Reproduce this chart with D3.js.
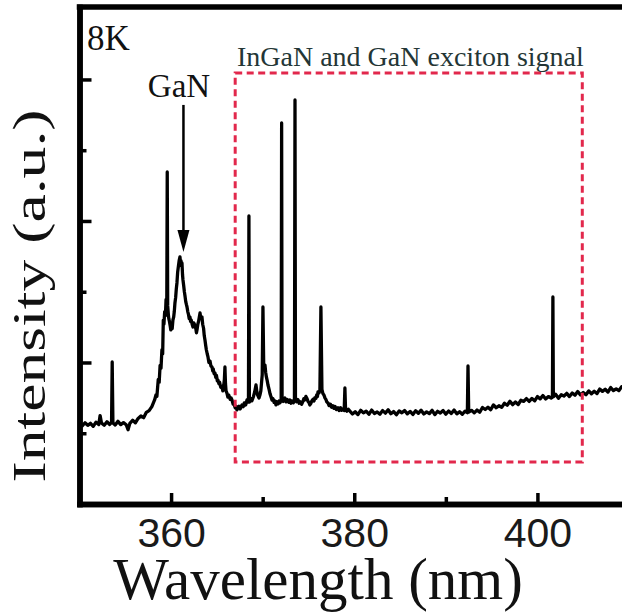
<!DOCTYPE html>
<html>
<head>
<meta charset="utf-8">
<script src="https://cdn.jsdelivr.net/npm/d3@7"></script>
<style>
  body { margin: 0; background: #fff; }
  svg { display: block; }
</style>
</head>
<body>
<svg id="chart" width="622" height="612"></svg>
<script>
// Photoluminescence spectrum at 8 K: [wavelength (nm), intensity (a.u.)]
const spectrum = [
  [350.0,0.568],[350.3,0.552],[350.6,0.574],[350.9,0.556],[351.2,0.570],[351.5,0.549],
  [351.8,0.578],[352.1,0.561],[352.25,0.625],[352.4,0.572],[352.7,0.556],[353.0,0.581],
  [353.3,0.562],[353.5,0.576],[353.57,1.004],[353.65,0.572],[353.9,0.558],[354.2,0.584],
  [354.5,0.561],[354.8,0.575],[355.1,0.560],[355.3,0.525],[355.5,0.570],[355.8,0.592],
  [356.1,0.574],[356.4,0.605],[356.7,0.622],[357.0,0.610],[357.3,0.648],[357.6,0.660],
  [357.9,0.688],
  // GaN band-edge emission
  [358.2,0.735],[358.35,0.770],[358.45,0.760],[358.6,0.880],[358.7,0.860],[358.8,0.980],
  [358.9,0.960],[359.0,1.090],[359.08,1.060],[359.15,1.300],[359.22,1.270],[359.3,1.360],
  [359.38,1.330],[359.45,1.445],[359.53,1.400],[359.58,2.346],[359.63,1.400],[359.7,1.340],
  [359.75,1.310],[359.82,1.290],[359.9,1.260],[359.97,1.230],[360.05,1.260],[360.12,1.240],
  [360.2,1.300],[360.28,1.320],[360.35,1.360],[360.42,1.420],[360.5,1.460],[360.57,1.520],
  [360.64,1.562],[360.72,1.640],[360.8,1.680],[360.88,1.720],[360.97,1.746],[361.03,1.700],
  [361.08,1.720],[361.14,1.680],[361.19,1.703],[361.25,1.620],[361.3,1.583],[361.38,1.540],
  [361.45,1.500],[361.52,1.470],[361.6,1.430],[361.67,1.410],[361.74,1.392],[361.82,1.360],
  [361.9,1.340],[361.98,1.310],[362.06,1.322],[362.13,1.290],[362.2,1.300],[362.3,1.270],
  [362.39,1.251],[362.47,1.280],[362.55,1.270],[362.62,1.250],[362.7,1.240],[362.77,1.210],
  [362.83,1.230],[362.92,1.270],[363.0,1.290],[363.08,1.320],[363.16,1.350],[363.25,1.310],
  [363.37,1.322],[363.45,1.270],[363.55,1.240],[363.62,1.190],[363.7,1.159],[363.78,1.120],
  [363.85,1.090],[363.95,1.060],[364.03,1.039],[364.13,1.000],[364.25,1.010],[364.35,0.975],
  [364.47,0.968],[364.55,0.940],[364.6,0.955],[364.7,0.920],[364.79,0.926],[364.88,0.895],
  [364.95,0.910],[365.05,0.870],[365.12,0.876],[365.22,0.850],[365.3,0.860],[365.42,0.825],
  [365.56,0.827],[365.65,0.800],[365.75,0.840],[365.82,0.880],[365.88,0.968],[365.94,0.850],
  [366.0,0.800],[366.1,0.784],[366.2,0.755],[366.3,0.770],[366.45,0.740],[366.55,0.750],
  [366.65,0.735],[366.78,0.705],[366.9,0.700],[367.0,0.680],[367.1,0.690],[367.19,0.665],
  [367.3,0.685],
  // InGaN / GaN exciton lines
  [367.4,0.690],[367.55,0.672],[367.74,0.700],[367.88,0.688],[368.0,0.715],[368.15,0.700],
  [368.29,0.735],[368.45,0.720],[368.5,2.035],[368.55,0.720],[368.7,0.745],[368.83,0.730],
  [369.0,0.760],[369.12,0.790],[369.27,0.841],[369.37,0.790],[369.45,0.770],[369.6,0.749],
  [369.7,0.770],[369.8,0.800],[369.95,0.912],[370.03,1.392],[370.12,0.950],[370.25,0.982],
  [370.33,0.930],[370.4,0.900],[370.5,0.870],[370.58,0.841],[370.7,0.810],[370.8,0.780],
  [370.9,0.760],[371.02,0.735],[371.12,0.745],[371.25,0.718],[371.35,0.728],[371.45,0.700],
  [371.58,0.722],[371.7,0.708],[371.8,0.728],[371.89,0.715],[372.02,0.730],[372.07,2.693],
  [372.12,0.740],[372.25,0.725],[372.43,0.749],[372.55,0.722],[372.7,0.738],[372.85,0.718],
  [372.98,0.735],[373.1,0.712],[373.2,0.728],[373.35,0.715],[373.47,0.740],[373.53,2.855],
  [373.58,0.740],[373.7,0.722],[373.85,0.738],[373.98,0.712],[374.1,0.722],[374.25,0.705],
  [374.4,0.725],[374.5,0.745],[374.6,0.735],[374.72,0.760],[374.84,0.745],[374.95,0.725],
  [375.05,0.718],[375.15,0.700],[375.27,0.712],[375.38,0.730],[375.5,0.740],[375.6,0.728],
  [375.71,0.752],[375.8,0.745],[375.9,0.770],[375.98,0.760],[376.04,0.792],[376.15,0.785],
  [376.25,0.805],[376.36,1.392],[376.47,0.810],[376.58,0.780],[376.69,0.770],[376.8,0.750],
  [376.9,0.740],[377.0,0.722],[377.13,0.714],[377.25,0.695],[377.4,0.705],[377.52,0.684],
  [377.67,0.695],[377.78,0.676],[377.9,0.690],[378.05,0.668],[378.22,0.680],[378.35,0.660],
  [378.5,0.680],[378.62,0.662],[378.76,0.672],[378.9,0.660],[378.98,0.820],[379.05,0.668],
  [379.2,0.656],[379.35,0.670],
  // flat background and slow rise towards the red end
  [379.5,0.658],[379.8,0.636],[380.1,0.652],[380.4,0.632],[380.7,0.662],[381.0,0.644],
  [381.3,0.656],[381.6,0.634],[381.9,0.664],[382.2,0.640],[382.5,0.650],[382.8,0.635],
  [383.1,0.660],[383.4,0.642],[383.7,0.666],[384.0,0.638],[384.3,0.653],[384.6,0.631],
  [384.9,0.657],[385.2,0.645],[385.5,0.661],[385.8,0.637],[386.1,0.654],[386.4,0.633],
  [386.7,0.659],[387.0,0.641],[387.3,0.663],[387.6,0.636],[387.9,0.651],[388.2,0.639],
  [388.5,0.662],[388.8,0.632],[389.1,0.655],[389.4,0.643],[389.7,0.660],[390.0,0.635],
  [390.3,0.657],[390.6,0.640],[390.9,0.664],[391.2,0.637],[391.5,0.652],[391.8,0.634],
  [392.1,0.656],[392.35,0.645],[392.42,0.975],[392.5,0.650],[392.8,0.662],[393.1,0.644],
  [393.4,0.664],[393.7,0.648],[394.0,0.682],[394.3,0.668],[394.6,0.684],[394.9,0.666],
  [395.2,0.700],[395.5,0.680],[395.8,0.694],[396.1,0.683],[396.4,0.712],[396.7,0.698],
  [397.0,0.726],[397.3,0.702],[397.6,0.721],[397.9,0.703],[398.2,0.733],[398.5,0.725],
  [398.8,0.745],[399.1,0.725],[399.4,0.746],[399.7,0.729],[400.0,0.759],[400.3,0.743],
  [400.6,0.767],[400.9,0.742],[401.2,0.759],[401.5,0.749],[401.64,0.755],[401.69,1.463],
  [401.74,0.758],[402.0,0.775],[402.3,0.747],[402.6,0.772],[402.9,0.763],[403.2,0.782],
  [403.5,0.759],[403.8,0.784],[404.1,0.769],[404.4,0.795],[404.7,0.771],[405.0,0.788],
  [405.3,0.772],[405.6,0.799],[405.9,0.779],[406.2,0.797],[406.5,0.780],[406.8,0.812],
  [407.1,0.796],[407.4,0.811],[407.7,0.791],[408.0,0.823],[408.3,0.802],[408.6,0.814],
  [408.9,0.801],[409.2,0.829],[409.5,0.813],[409.8,0.839]
];

const xDomain = [350, 410];
const yDomain = [0, 3.512];
const xTicksMajor = [360, 380, 400];
const xTicksMinor = [370, 390];
const yTicksMajor = [1, 2, 3];
const yTicksMinor = [0.5, 1.5, 2.5];

// Highlighted exciton region: [wavelength from, wavelength to], [intensity from, intensity to]
const boxWavelength = [367.0, 404.9];
const boxIntensity = [0.297, 3.046];
// GaN peak marker: wavelength, arrow tail and tip intensity
const arrowWavelength = 361.35;
const arrowIntensity = [2.82, 1.78];

const serif = "'Liberation Serif','Times New Roman',Times,serif";
const sans = "'Liberation Sans',Arial,Helvetica,sans-serif";

const svg = d3.select("#chart");
const plotLeft = 79.5, plotRight = 629, plotTop = 7, plotBottom = 504;

const x = d3.scaleLinear().domain(xDomain).range([plotLeft, plotRight]);
const y = d3.scaleLinear().domain(yDomain).range([plotBottom, plotTop]);

svg.append("rect").attr("width", 622).attr("height", 612).attr("fill", "#fff");

svg.append("clipPath").attr("id", "plot-clip")
  .append("rect").attr("x", plotLeft).attr("y", plotTop)
  .attr("width", plotRight - plotLeft).attr("height", plotBottom - plotTop);

// spectrum
const line = d3.line().x(d => x(d[0])).y(d => y(d[1]));
svg.append("path")
  .datum(spectrum)
  .attr("clip-path", "url(#plot-clip)")
  .attr("d", line)
  .attr("fill", "none")
  .attr("stroke", "#000")
  .attr("stroke-width", 3.3)
  .attr("stroke-linejoin", "round");

// dashed region box
svg.append("rect")
  .attr("x", x(boxWavelength[0]))
  .attr("y", y(boxIntensity[1]))
  .attr("width", x(boxWavelength[1]) - x(boxWavelength[0]))
  .attr("height", y(boxIntensity[0]) - y(boxIntensity[1]))
  .attr("fill", "none")
  .attr("stroke", "#e2284c")
  .attr("stroke-width", 3)
  .attr("stroke-dasharray", "7,4.5");

// arrow to the GaN band-edge peak
const ax = x(arrowWavelength);
const aTail = y(arrowIntensity[0]);
const aTip = y(arrowIntensity[1]);
svg.append("line")
  .attr("x1", ax).attr("x2", ax)
  .attr("y1", aTail).attr("y2", aTip - 18)
  .attr("stroke", "#000").attr("stroke-width", 2.5);
svg.append("path")
  .attr("d", `M${ax - 6},${aTip - 22} L${ax + 6},${aTip - 22} L${ax},${aTip} Z`)
  .attr("fill", "#000");

// annotations
svg.append("text").attr("x", 87).attr("y", 50)
  .attr("font-family", serif).attr("font-size", 35).attr("fill", "#111")
  .text("8K");
svg.append("text").attr("x", 179).attr("y", 97)
  .attr("text-anchor", "middle")
  .attr("font-family", serif).attr("font-size", 33).attr("fill", "#111")
  .text("GaN");
svg.append("text").attr("x", 237).attr("y", 66)
  .attr("font-family", serif).attr("font-size", 28).attr("fill", "#243636")
  .text("InGaN and GaN exciton signal");

// axes
function styleAxis(g, w) {
  g.select(".domain").attr("stroke", "#000").attr("stroke-width", 5.5).attr("stroke-linecap", "square");
  g.selectAll(".tick line").attr("stroke", "#000").attr("stroke-width", w);
}

const gxMinor = svg.append("g").attr("transform", `translate(0,${plotBottom})`)
  .call(d3.axisBottom(x).tickValues(xTicksMinor).tickSizeInner(-7).tickSizeOuter(0).tickFormat(""));
styleAxis(gxMinor, 3.5);
const gx = svg.append("g").attr("transform", `translate(0,${plotBottom})`)
  .call(d3.axisBottom(x).tickValues(xTicksMajor).tickSizeInner(-11).tickSizeOuter(0).tickPadding(14));
styleAxis(gx, 3.5);
gx.selectAll(".tick text")
  .attr("font-family", sans).attr("font-size", 41).attr("fill", "#1a1a1a");

const gyMinor = svg.append("g").attr("transform", `translate(${plotLeft},0)`)
  .call(d3.axisLeft(y).tickValues(yTicksMinor).tickSizeInner(-7).tickSizeOuter(0).tickFormat(""));
styleAxis(gyMinor, 3.5);
const gy = svg.append("g").attr("transform", `translate(${plotLeft},0)`)
  .call(d3.axisLeft(y).tickValues(yTicksMajor).tickSizeInner(-12).tickSizeOuter(0).tickFormat(""));
styleAxis(gy, 3.5);

// top frame edge
svg.append("line")
  .attr("x1", plotLeft).attr("x2", plotRight).attr("y1", plotTop).attr("y2", plotTop)
  .attr("stroke", "#000").attr("stroke-width", 5.5).attr("stroke-linecap", "square");

// axis titles
svg.append("text").attr("x", 318).attr("y", 599)
  .attr("text-anchor", "middle")
  .attr("font-family", serif).attr("font-size", 59).attr("fill", "#111")
  .text("Wavelength (nm)");
svg.append("text")
  .attr("transform", "translate(45,296) rotate(-90)")
  .attr("text-anchor", "middle")
  .attr("font-family", serif).attr("font-size", 47).attr("fill", "#111")
  .attr("textLength", 373).attr("lengthAdjust", "spacingAndGlyphs")
  .text("Intensity (a.u.)");
</script>
</body>
</html>
